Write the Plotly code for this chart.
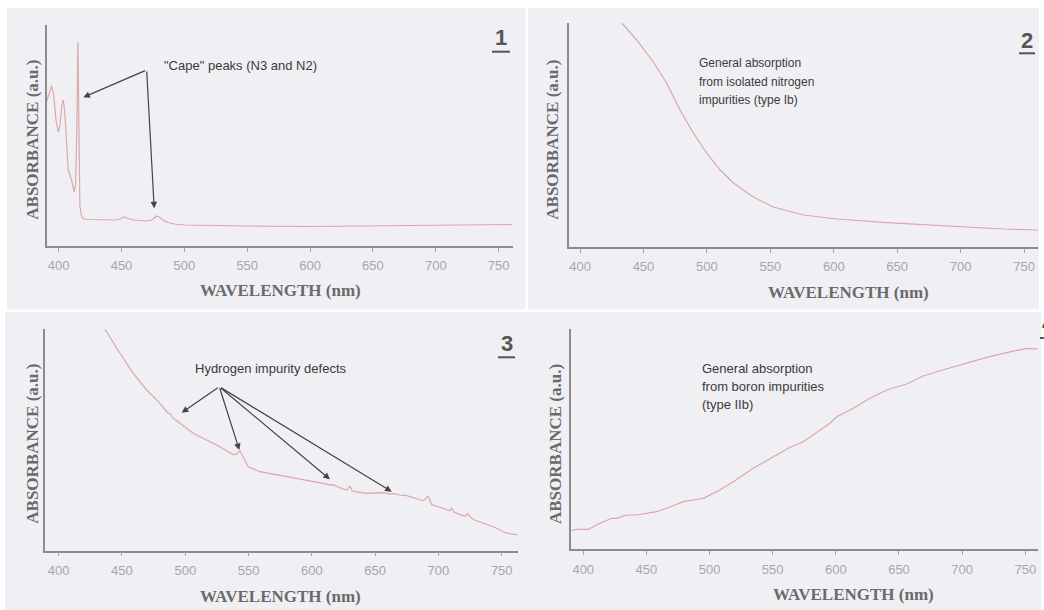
import plotly.graph_objects as go

W, H = 1044, 610

# ---------------- data ----------------
wl1 = [390, 392, 394.4, 396, 398, 399.7, 401, 402.5, 403.7, 404.8, 405.8, 407.6, 410.3, 412.4,
       413.5, 414.5, 415.3, 416.0, 416.9, 418.0, 419.6, 425, 435, 445, 449, 452, 455, 460, 465,
       470, 474, 476, 478, 480, 483, 487, 492, 500, 520, 550, 600, 650, 700, 740, 761]
ab1 = [1.43, 1.52, 1.60, 1.52, 1.25, 1.14, 1.20, 1.40, 1.46, 1.35, 1.13, 0.76, 0.66, 0.54,
       0.62, 1.20, 2.04, 1.30, 0.40, 0.31, 0.27, 0.265, 0.26, 0.26, 0.27, 0.29, 0.275, 0.26, 0.255,
       0.25, 0.26, 0.28, 0.30, 0.29, 0.26, 0.235, 0.22, 0.21, 0.205, 0.20, 0.195, 0.20, 0.205, 0.21, 0.215]

wl2 = [390, 410, 425, 433, 444.7, 457.8, 468.3, 478.8, 489.3, 499.9, 510.4, 520.9, 536.6,
       552.4, 576, 602.4, 641.8, 694.3, 733.7, 761]
ab2 = [2.55, 2.45, 2.33, 2.24, 2.07, 1.85, 1.64, 1.37, 1.14, 0.94, 0.77, 0.64, 0.50,
       0.40, 0.32, 0.28, 0.243, 0.203, 0.18, 0.17]

wl3 = [390, 410, 425, 436.6, 448.4, 458.9, 469.5, 480, 486, 488, 490, 495.8, 506.3, 516.9,
       527.4, 537.9, 541, 543.2, 545.8, 549.8, 559, 577.4, 595.9, 612, 614.5, 617, 621, 627.5,
       630.1, 632, 634, 643.3, 656.4, 662, 665, 669.6, 675, 680, 685.4, 688, 692, 694.7, 700,
       705, 709.1, 710.5, 712, 717, 721, 723, 724.9, 728, 732.8, 743.3, 753.9, 763]
ab3 = [3.1, 2.75, 2.45, 2.207, 1.974, 1.774, 1.607, 1.474, 1.38, 1.37, 1.33, 1.274, 1.174, 1.107,
       1.04, 0.96, 0.97, 1.0, 0.94, 0.84, 0.79, 0.747, 0.707, 0.665, 0.655, 0.66, 0.635, 0.607,
       0.645, 0.60, 0.59, 0.574, 0.58, 0.565, 0.57, 0.557, 0.55, 0.53, 0.51, 0.50, 0.545, 0.46, 0.44,
       0.42, 0.40, 0.43, 0.39, 0.36, 0.345, 0.37, 0.34, 0.31, 0.29, 0.24, 0.175, 0.157]

wl4 = [390.8, 394.8, 404, 413.2, 422.5, 426.4, 434.4, 442.3, 450.2, 458.1, 466, 479.2, 487.1,
       495, 508.2, 518.8, 534.6, 550.5, 563.7, 574.2, 587.4, 595.3, 600.7, 613.8, 627, 640.3,
       656, 669.2, 682.5, 700.9, 719.4, 735.3, 751.1, 760.3]
ab4 = [0.186, 0.20, 0.20, 0.26, 0.31, 0.31, 0.343, 0.343, 0.36, 0.376, 0.41, 0.476, 0.493,
       0.51, 0.593, 0.676, 0.81, 0.926, 1.02, 1.076, 1.193, 1.26, 1.326, 1.41, 1.51, 1.593,
       1.653, 1.733, 1.786, 1.853, 1.92, 1.966, 2.01, 2.003]

tick_vals = [400, 450, 500, 550, 600, 650, 700, 750]
tick_text = [str(v) for v in tick_vals]

# ---------------- styles ----------------
LINE = "#dba7aa"
AXIS = "#8c8c8c"
TICKC = "#a6a6a6"
PANEL_BG = "#f0f0f4"
TXT = "#3a3a3a"


def px(x):
    return x / W


def py(y):
    return 1 - y / H


# plot areas in pixels: (left, right, top, bottom), x range, y range
panels = [
    dict(box=(46.7, 513, 25, 246), xr=[390.5, 761.4], yr=[0, 2.21], wl=wl1, ab=ab1),
    dict(box=(569, 1038, 23.3, 247), xr=[391.3, 761], yr=[0, 2.237], wl=wl2, ab=ab2),
    dict(box=(45, 518.3, 329.3, 550.7), xr=[389.2, 763.1], yr=[0, 2.214], wl=wl3, ab=ab3),
    dict(box=(571, 1038.3, 329.3, 549.3), xr=[390.3, 760.3], yr=[0, 2.2], wl=wl4, ab=ab4),
]

fig = go.Figure()
layout = dict(
    width=W, height=H,
    margin=dict(l=0, r=0, t=0, b=0),
    paper_bgcolor="white", plot_bgcolor="white",
    showlegend=False,
)

for i, p in enumerate(panels):
    n = "" if i == 0 else str(i + 1)
    l, r, t, b = p["box"]
    fig.add_trace(go.Scatter(x=p["wl"], y=p["ab"], mode="lines",
                             line=dict(color=LINE, width=1.2),
                             xaxis="x" + n, yaxis="y" + n, hoverinfo="skip"))
    layout["xaxis" + n] = dict(
        domain=[px(l), px(r)], range=p["xr"], anchor="y" + n,
        showgrid=False, zeroline=False, showline=True, linecolor=AXIS, linewidth=1.5,
        ticks="outside", ticklen=4, tickwidth=1, tickcolor=TICKC,
        tickvals=tick_vals, ticktext=tick_text, ticklabelstandoff=3,
        tickfont=dict(family="Liberation Sans, Arial", size=13, color=TICKC),
    )
    layout["yaxis" + n] = dict(
        domain=[py(b), py(t)], range=p["yr"], anchor="x" + n,
        showgrid=False, zeroline=False, showline=True, linecolor=AXIS, linewidth=1.5,
        showticklabels=False, ticks="",
    )

shapes = []
# light gray panel backgrounds
for (x0, x1, y0, y1) in [(7, 525.5, 8, 309.5), (528, 1039, 8, 309.5), (5, 1041, 312, 610)]:
    shapes.append(dict(type="rect", xref="paper", yref="paper", x0=px(x0), x1=px(x1),
                       y0=py(y1), y1=py(y0), fillcolor=PANEL_BG, line=dict(width=0), layer="below"))

annotations = []
# axis titles
title_font = dict(family="Liberation Serif, DejaVu Serif, serif", size=17, color="#6a6a6a")
for (cx, cy) in [(280, 290), (848, 292), (280, 596), (853, 594)]:
    annotations.append(dict(text="<b>WAVELENGTH (nm)</b>", x=px(cx), y=py(cy), xref="paper", yref="paper",
                            showarrow=False, font=title_font, xanchor="center", yanchor="middle"))
for (cx, cy) in [(31.7, 140), (551.7, 140), (31.7, 444), (555, 444)]:
    annotations.append(dict(text="<b>ABSORBANCE (a.u.)</b>", x=px(cx), y=py(cy), xref="paper", yref="paper",
                            showarrow=False, font=title_font, textangle=-90,
                            xanchor="center", yanchor="middle"))

# panel numbers with underline
num_font = dict(family="Liberation Sans, Arial", size=22, color="#555555")
for (label, cx, cy, ul_y, ul0, ul1) in [("1", 501, 37.5, 51.7, 492, 510),
                                         ("2", 1027, 40.5, 53.3, 1019, 1035),
                                         ("3", 506.5, 343.3, 357.3, 498, 515),
                                         ("4", 1048, 324, 338, 1040, 1058)]:
    annotations.append(dict(text="<b>%s</b>" % label, x=px(cx), y=py(cy), xref="paper", yref="paper",
                            showarrow=False, font=num_font, xanchor="center", yanchor="middle"))
    shapes.append(dict(type="line", xref="paper", yref="paper", x0=px(ul0), x1=px(ul1),
                       y0=py(ul_y), y1=py(ul_y), line=dict(color="#555555", width=2)))

# explanatory texts
notes = [
    ('"Cape" peaks (N3 and N2)', 162, 65, 13),
    ("General absorption", 696.7, 63.3, 12),
    ("from isolated nitrogen", 696.7, 81.7, 12),
    ("impurities (type Ib)", 696.7, 100, 12),
    ("Hydrogen impurity defects", 193.3, 68.3 + 300, 13),
    ("General absorption", 700, 368.3, 13),
    ("from boron impurities", 700, 386, 13),
    ("(type IIb)", 700, 404, 13),
]
for (t, x, y, s) in notes:
    annotations.append(dict(text=t, x=px(x), y=py(y), xref="paper", yref="paper", showarrow=False,
                            font=dict(family="Liberation Sans, Arial", size=s, color=TXT),
                            xanchor="left", yanchor="middle"))

# arrows (data coordinates): (axis suffix, head x, head y, tail x, tail y)
arrows = [
    ("", 419.6, 1.487, 470, 1.76),
    ("", 476, 0.377, 470, 1.76),
    ("3", 497.2, 1.38, 526.9, 1.64),
    ("3", 542.7, 1.007, 526.9, 1.64),
    ("3", 614.3, 0.714, 526.9, 1.64),
    ("3", 663.1, 0.59, 526.9, 1.64),
]
for (n, hx, hy, tx, ty) in arrows:
    annotations.append(dict(text="", x=hx, y=hy, ax=tx, ay=ty, xref="x" + n, yref="y" + n,
                            axref="x" + n, ayref="y" + n, showarrow=True, arrowhead=2,
                            arrowsize=1.1, arrowwidth=1.2, arrowcolor="#444444", standoff=0))

layout["shapes"] = shapes
layout["annotations"] = annotations
fig.update_layout(**layout)
fig.write_html("out.html", config={"displayModeBar": False},
               post_script="document.body.style.margin='0';document.body.style.overflow='hidden';")
